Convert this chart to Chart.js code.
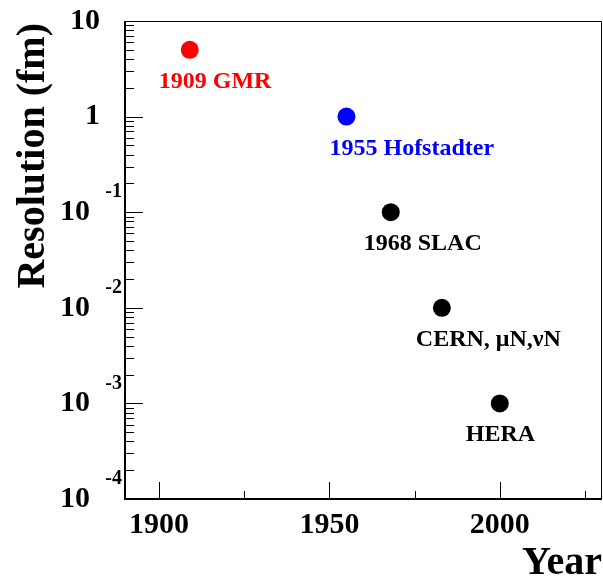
<!DOCTYPE html>
<html>
<head>
<meta charset="utf-8">
<script src="https://cdn.jsdelivr.net/npm/chart.js@4/dist/chart.umd.min.js"></script>
<style>
  html, body { margin: 0; padding: 0; background: #fff; }
  #wrap { width: 603px; height: 580px; }
</style>
</head>
<body>
<div id="wrap"><canvas id="resChart" width="603" height="580"></canvas></div>
<script>
// data
const years = [1909, 1955, 1968, 1983, 2000];
const resolutions = [5, 1, 0.1, 0.01, 0.001];
const pointNames = ["1909 GMR", "1955 Hofstadter", "1968 SLAC", "CERN, \u03bcN,\u03bdN", "HERA"];
const pointColors = ["#ff0000", "#0000ff", "#000000", "#000000", "#000000"];

// axes
const xMajorTicks = [1900, 1950, 2000];
const xMinorTicks = [1925, 1975, 2025];
const yDecades = [10, 1, 0.1, 0.01, 0.001, 0.0001];
const yMantissa = ["10", "1", "10", "10", "10", "10"];
const yExponent = ["", "", "-1", "-2", "-3", "-4"];

// label placement (pixels, relative to marker centre)
const labelDx = [-31, -17, -27, -26, -34];
const labelDy = 38;

const SERIF = "'Liberation Serif', 'Times New Roman', serif";

// ROOT-like frame, inward ticks, labels and titles
const rootStyle = {
  id: "rootStyle",
  afterDraw(chart) {
    const ctx = chart.ctx;
    const a = chart.chartArea;
    const xs = chart.scales.x;
    const ys = chart.scales.y;
    ctx.save();
    ctx.strokeStyle = "#000";
    ctx.fillStyle = "#000";

    // frame
    ctx.lineWidth = 1;
    ctx.beginPath();
    ctx.moveTo(a.left, a.top + 0.5);
    ctx.lineTo(a.right - 0.5, a.top + 0.5);
    ctx.lineTo(a.right - 0.5, a.bottom);
    ctx.stroke();
    ctx.lineWidth = 2;
    ctx.beginPath();
    ctx.moveTo(a.left, a.top);
    ctx.lineTo(a.left, a.bottom);
    ctx.lineTo(a.right, a.bottom);
    ctx.stroke();

    // x ticks
    ctx.lineWidth = 1;
    ctx.beginPath();
    xMajorTicks.forEach(v => {
      const px = Math.round(xs.getPixelForValue(v)) + 0.5;
      ctx.moveTo(px, a.bottom);
      ctx.lineTo(px, a.bottom - 17);
    });
    xMinorTicks.forEach(v => {
      const px = Math.round(xs.getPixelForValue(v)) + 0.5;
      ctx.moveTo(px, a.bottom);
      ctx.lineTo(px, a.bottom - 8);
    });
    // y ticks
    yDecades.forEach(d => {
      const py = Math.round(ys.getPixelForValue(d)) + 0.5;
      ctx.moveTo(a.left, py);
      ctx.lineTo(a.left + 18, py);
      if (d < 10) {
        for (let m = 2; m <= 9; m++) {
          const my = Math.round(ys.getPixelForValue(d * m)) + 0.5;
          ctx.moveTo(a.left, my);
          ctx.lineTo(a.left + 9, my);
        }
      }
    });
    ctx.stroke();

    // x tick labels
    ctx.font = "bold 30px " + SERIF;
    ctx.textAlign = "center";
    ctx.textBaseline = "alphabetic";
    xMajorTicks.forEach(v => {
      ctx.fillText(String(v), xs.getPixelForValue(v), a.bottom + 34);
    });

    // y tick labels, 10 with exponent
    ctx.textAlign = "right";
    ctx.textBaseline = "middle";
    yDecades.forEach((d, i) => {
      const py = ys.getPixelForValue(d);
      ctx.font = "bold 30px " + SERIF;
      if (yExponent[i] === "") {
        ctx.fillText(yMantissa[i], a.left - 25, py);
      } else {
        ctx.fillText(yMantissa[i], a.left - 35, py);
        ctx.font = "bold 20px " + SERIF;
        ctx.fillText(yExponent[i], a.left - 3, py - 20);
      }
    });

    // point labels
    ctx.font = "bold 24px " + SERIF;
    ctx.textAlign = "left";
    ctx.textBaseline = "alphabetic";
    years.forEach((yr, i) => {
      ctx.fillStyle = pointColors[i];
      ctx.fillText(pointNames[i], xs.getPixelForValue(yr) + labelDx[i],
        ys.getPixelForValue(resolutions[i]) + labelDy);
    });

    // axis titles
    ctx.fillStyle = "#000";
    ctx.font = "bold 40px " + SERIF;
    ctx.textAlign = "right";
    ctx.fillText("Year", a.right, 574);
    ctx.translate(44, a.top + 2);
    ctx.rotate(-Math.PI / 2);
    ctx.fillText("Resolution (fm)", 0, 0);
    ctx.restore();
  }
};

new Chart(document.getElementById("resChart").getContext("2d"), {
  type: "scatter",
  data: {
    datasets: [{
      label: "Resolution",
      data: years.map((yr, i) => ({ x: yr, y: resolutions[i] })),
      pointRadius: 9,
      pointHoverRadius: 9,
      pointBorderWidth: 0,
      pointBackgroundColor: pointColors,
      pointBorderColor: pointColors,
    }],
  },
  options: {
    responsive: false,
    animation: false,
    layout: { autoPadding: false, padding: { left: 125, right: 1, top: 21, bottom: 81 } },
    plugins: { legend: { display: false }, tooltip: { enabled: false } },
    scales: {
      x: { type: "linear", min: 1890, max: 2030, display: false },
      y: { type: "logarithmic", min: 0.0001, max: 10, display: false },
    },
  },
  plugins: [rootStyle],
});
</script>
</body>
</html>
